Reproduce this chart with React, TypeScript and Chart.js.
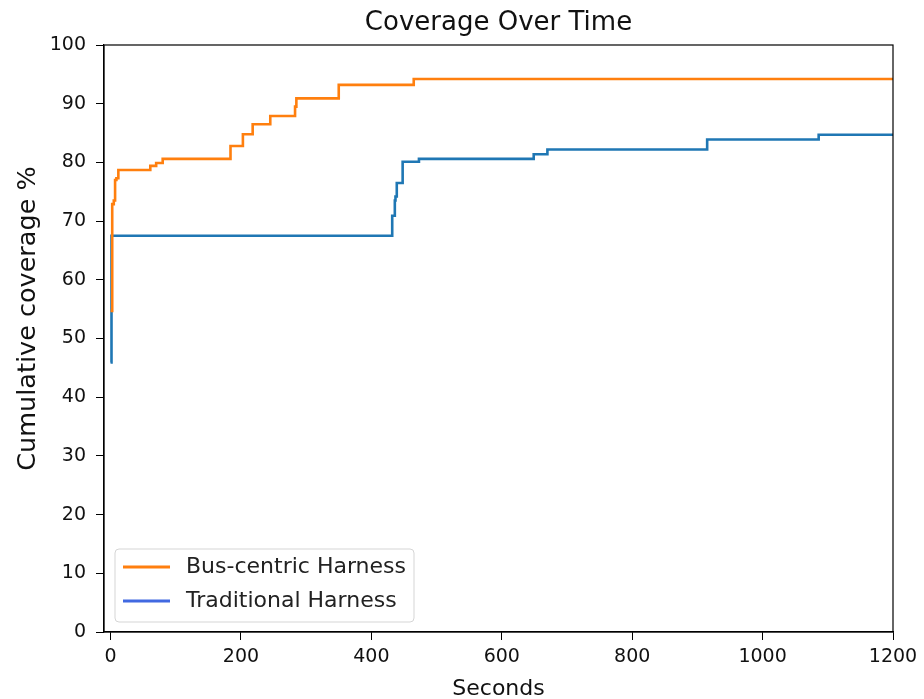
import React, { useEffect, useRef } from "react";
import { Chart, registerables } from "chart.js";

Chart.register(...registerables);

// ---- Data ----
const busSeconds = [0, 2.6, 5, 7, 9, 12, 61, 70, 80, 184, 203, 218, 245, 283, 285, 350, 465, 1200];
const busCoverage = [54.7, 72.9, 73.5, 77, 77.3, 78.7, 79.4, 79.9, 80.6, 82.8, 84.8, 86.5, 87.9, 89.5, 90.9, 93.2, 94.2, 94.2];

const tradSeconds = [0, 1.5, 432, 436, 437, 439, 448, 473, 649, 670, 915, 1086, 1200];
const tradCoverage = [45.9, 67.5, 70.9, 73.5, 74.2, 76.5, 80.1, 80.6, 81.4, 82.2, 83.9, 84.7, 84.7];

const seriesLabels = ["Bus-centric Harness", "Traditional Harness"];
const xTicks = [0, 200, 400, 600, 800, 1000, 1200];
const yTicks = [0, 10, 20, 30, 40, 50, 60, 70, 80, 90, 100];

const titleText = "Coverage Over Time";
const xTitle = "Seconds";
const yTitle = "Cumulative coverage %";

const FONT = "'DejaVu Sans', sans-serif";
const ORANGE = "#ff7f0e";
const BLUE = "#1f77b4";
const LEGEND_BLUE = "#4169e1";

const decorPlugin = {
  id: "decor",
  afterDraw(chart: any) {
    const { ctx, chartArea } = chart;
    const { left, right, top, bottom } = chartArea;
    ctx.save();
    // spines
    ctx.strokeStyle = "#000";
    ctx.lineWidth = 1.2;
    ctx.strokeRect(left, top, right - left, bottom - top);

    // title
    ctx.fillStyle = "#111";
    ctx.font = `26px ${FONT}`;
    ctx.textAlign = "center";
    ctx.textBaseline = "alphabetic";
    ctx.fillText(titleText, (left + right) / 2, 30);

    // x title
    ctx.font = `22px ${FONT}`;
    ctx.fillText(xTitle, (left + right) / 2, 695);

    // y title
    ctx.save();
    ctx.translate(35, (top + bottom) / 2 - 20);
    ctx.rotate(-Math.PI / 2);
    ctx.font = `25.5px ${FONT}`;
    ctx.textAlign = "center";
    ctx.fillText(yTitle, 0, 0);
    ctx.restore();

    // legend
    const bx = left + 11, by = bottom - 83, bw = 299, bh = 73, r = 4;
    ctx.beginPath();
    ctx.moveTo(bx + r, by);
    ctx.lineTo(bx + bw - r, by);
    ctx.quadraticCurveTo(bx + bw, by, bx + bw, by + r);
    ctx.lineTo(bx + bw, by + bh - r);
    ctx.quadraticCurveTo(bx + bw, by + bh, bx + bw - r, by + bh);
    ctx.lineTo(bx + r, by + bh);
    ctx.quadraticCurveTo(bx, by + bh, bx, by + bh - r);
    ctx.lineTo(bx, by + r);
    ctx.quadraticCurveTo(bx, by, bx + r, by);
    ctx.closePath();
    ctx.fillStyle = "rgba(255,255,255,0.8)";
    ctx.fill();
    ctx.strokeStyle = "#d5d5d5";
    ctx.lineWidth = 1;
    ctx.stroke();

    const colors = [ORANGE, LEGEND_BLUE];
    const rows = [by + 18, by + 52];
    ctx.font = `22px ${FONT}`;
    ctx.textAlign = "left";
    ctx.textBaseline = "middle";
    seriesLabels.forEach((lab, i) => {
      ctx.strokeStyle = colors[i];
      ctx.lineWidth = 3;
      ctx.beginPath();
      ctx.moveTo(bx + 8, rows[i]);
      ctx.lineTo(bx + 55, rows[i]);
      ctx.stroke();
      ctx.fillStyle = "#222";
      ctx.fillText(lab, bx + 71, rows[i]);
    });
    ctx.restore();
  },
};

export default function App() {
  const ref = useRef<HTMLCanvasElement>(null);
  useEffect(() => {
    document.body.style.margin = "0";
    const canvas = ref.current!;
    const toPts = (xs: number[], ys: number[]) => xs.map((x, i) => ({ x, y: ys[i] }));
    const tickFont = { family: FONT, size: 19 };
    const chart = new Chart(canvas, {
      type: "line",
      data: {
        datasets: [
          {
            label: seriesLabels[0],
            data: toPts(busSeconds, busCoverage),
            borderColor: ORANGE,
            borderWidth: 2.6,
            stepped: "before",
            pointRadius: 0,
            fill: false,
          },
          {
            label: seriesLabels[1],
            data: toPts(tradSeconds, tradCoverage),
            borderColor: BLUE,
            borderWidth: 2.6,
            stepped: "before",
            pointRadius: 0,
            fill: false,
          },
        ],
      },
      options: {
        animation: false,
        responsive: false,
        devicePixelRatio: 1,
        layout: { padding: { top: 45, right: 31, left: 0, bottom: 0 } },
        plugins: {
          legend: { display: false },
          title: { display: false },
          tooltip: { enabled: false },
        },
        scales: {
          x: {
            type: "linear",
            min: -10,
            max: 1200,
            afterBuildTicks: (axis: any) => {
              axis.ticks = xTicks.map((v) => ({ value: v }));
            },
            afterFit: (s: any) => {
              s.height = 67;
            },
            grid: { drawOnChartArea: false, tickLength: 8, color: "#000", tickWidth: 1 },
            border: { color: "#000", width: 1.2 },
            ticks: {
              font: tickFont,
              color: "#111",
              padding: 6,
              maxRotation: 0,
              autoSkip: false,
              callback: (v: any) => String(v),
            },
          },
          y: {
            type: "linear",
            min: 0,
            max: 100,
            afterBuildTicks: (axis: any) => {
              axis.ticks = yTicks.map((v) => ({ value: v }));
            },
            afterFit: (s: any) => {
              s.width = 104;
            },
            grid: { drawOnChartArea: false, tickLength: 8, color: "#000", tickWidth: 1 },
            border: { color: "#000", width: 1.2 },
            ticks: { font: tickFont, color: "#111", padding: 10, autoSkip: false, callback: (v: any) => String(v) },
          },
        },
      },
      plugins: [decorPlugin],
    } as any);
    return () => chart.destroy();
  }, []);
  return <canvas ref={ref} width={924} height={699} style={{ display: "block" }} />;
}
